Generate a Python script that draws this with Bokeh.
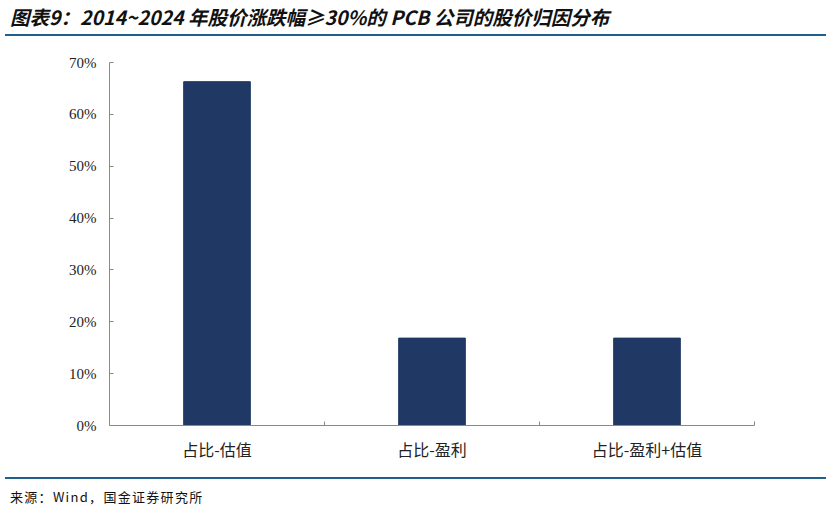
from bokeh.plotting import figure
from bokeh.models import ColumnDataSource, FixedTicker, PrintfTickFormatter, Range1d, Div
from bokeh.layouts import column
from bokeh.embed import file_html
from bokeh.resources import INLINE

# data
categories = ["占比-估值", "占比-盈利", "占比-盈利+估值"]
shares = [66.3, 16.85, 16.85]   # %
y_ticks = [0, 10, 20, 30, 40, 50, 60, 70]

title_text = "图表9：2014~2024 年股价涨跌幅≥30%的 PCB 公司的股价归因分布"
source_text = "来源：Wind，国金证券研究所"

line_col = "#1f5f8b"
bar_col = "#1f3864"
W = 831

xs = [i + 0.5 for i in range(len(categories))]
cds = ColumnDataSource(dict(x=xs, share=shares, cat=categories))

p = figure(width=W, height=441, output_backend="svg", toolbar_location=None,
           x_range=Range1d(0, len(categories)), y_range=Range1d(0, 70),
           min_border_left=109, min_border_right=77, min_border_top=26, min_border_bottom=52)
p.vbar(x="x", top="share", width=0.31, source=cds, fill_color=bar_col, line_color=bar_col)

p.xgrid.visible = False
p.ygrid.visible = False
p.outline_line_color = None

# x axis: labels at centres, ticks at category boundaries
p.xaxis.ticker = FixedTicker(ticks=xs, minor_ticks=list(range(1, len(categories) + 1)))
p.xaxis.major_label_overrides = {x: c for x, c in zip(xs, categories)}
p.xaxis.major_tick_in = 0
p.xaxis.major_tick_out = 0
p.xaxis.minor_tick_in = 4
p.xaxis.minor_tick_out = 0
p.xaxis.minor_tick_line_color = "#898989"
p.xaxis.axis_line_color = "#898989"
p.xaxis.major_label_text_font = "Noto Sans CJK SC"
p.xaxis.major_label_text_font_size = "16px"
p.xaxis.major_label_text_color = "#222222"
p.xaxis.major_label_standoff = 11

p.yaxis.ticker = FixedTicker(ticks=y_ticks)
p.yaxis.formatter = PrintfTickFormatter(format="%d%%")
p.yaxis.minor_tick_line_color = None
p.yaxis.major_tick_in = 4
p.yaxis.major_tick_out = 0
p.yaxis.major_tick_line_color = "#898989"
p.yaxis.axis_line_color = "#898989"
p.yaxis.major_label_text_font = "Liberation Serif"
p.yaxis.major_label_text_font_size = "15px"
p.yaxis.major_label_text_color = "#222222"
p.yaxis.major_label_standoff = 13

title = Div(text=title_text, width=W, height=34, margin=0,
            styles={"font-family": "Noto Sans CJK SC", "font-size": "19.5px", "font-weight": "bold",
                    "font-style": "italic", "color": "#111111", "line-height": "20px",
                    "padding-top": "7px", "padding-left": "10px", "white-space": "nowrap"})
rule1 = Div(text="", width=821, height=2, margin=(0, 0, 0, 5), styles={"background-color": line_col})
rule2 = Div(text="", width=821, height=2, margin=(0, 0, 0, 5), styles={"background-color": line_col})
src = Div(text=source_text, width=W, height=30, margin=0,
          styles={"font-family": "Noto Sans CJK SC", "font-size": "13px", "color": "#111111",
                  "letter-spacing": "1.3px", "padding-top": "11px", "padding-left": "10px",
                  "line-height": "14px", "white-space": "nowrap"})

layout = column(title, rule1, p, rule2, src, spacing=0)

open("out.html", "w").write(file_html(layout, INLINE))
